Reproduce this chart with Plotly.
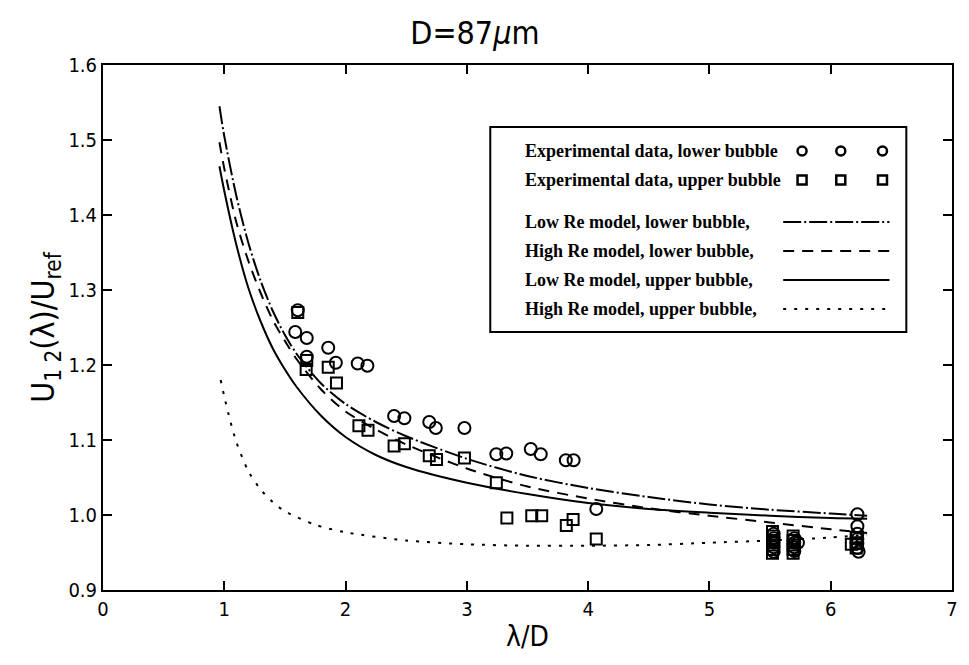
import plotly.graph_objects as go

# ---------------- data ----------------
low_circ_x = [1.606, 1.585, 1.68, 1.857, 1.68, 1.92, 2.10, 2.18, 2.40, 2.485, 2.69, 2.744, 2.98,
              3.243, 3.325, 3.527, 3.609, 3.816, 3.88, 4.067,
              5.53, 5.53, 5.53, 5.53, 5.53, 5.70, 5.70, 5.70, 5.70, 5.73,
              6.22, 6.22, 6.22, 6.22, 6.22, 6.22, 6.23]
low_circ_y = [1.273, 1.244, 1.236, 1.223, 1.211, 1.203, 1.202, 1.199, 1.132, 1.129, 1.124, 1.116, 1.116,
              1.081, 1.082, 1.088, 1.081, 1.073, 1.073, 1.008,
              0.975, 0.969, 0.963, 0.957, 0.951, 0.969, 0.963, 0.957, 0.952, 0.963,
              1.001, 0.985, 0.975, 0.968, 0.962, 0.956, 0.951]

up_sq_x = [1.606, 1.68, 1.675, 1.857, 1.925, 2.11, 2.185, 2.40, 2.485, 2.69, 2.75, 2.98, 3.243,
           3.33, 3.535, 3.617, 3.82, 3.876, 4.067,
           5.52, 5.52, 5.52, 5.52, 5.52, 5.52, 5.69, 5.69, 5.69, 5.69, 5.69,
           6.17, 6.21, 6.21, 6.21]
up_sq_y = [1.270, 1.206, 1.194, 1.197, 1.176, 1.119, 1.113, 1.092, 1.095, 1.079, 1.074, 1.076, 1.043,
           0.996, 0.999, 0.999, 0.986, 0.994, 0.968,
           0.978, 0.972, 0.966, 0.960, 0.954, 0.949, 0.972, 0.966, 0.960, 0.954, 0.949,
           0.961, 0.970, 0.963, 0.956]

model_x = [0.96, 1.0, 1.1, 1.2, 1.3, 1.4, 1.5, 1.6, 1.8, 2.0, 2.25, 2.5, 3.0, 3.5, 4.0, 4.5, 5.0, 5.5, 6.0, 6.3]
lowre_low_y = [1.545, 1.505, 1.425, 1.362, 1.312, 1.272, 1.240, 1.214, 1.175, 1.148, 1.124, 1.105,
               1.075, 1.052, 1.036, 1.024, 1.014, 1.007, 1.002, 0.999]
highre_low_y = [1.497, 1.462, 1.390, 1.338, 1.296, 1.260, 1.232, 1.207, 1.167, 1.138, 1.114, 1.094,
                1.062, 1.038, 1.022, 1.009, 0.999, 0.990, 0.981, 0.976]
lowre_up_y = [1.465, 1.432, 1.360, 1.302, 1.258, 1.222, 1.194, 1.170, 1.132, 1.104, 1.080, 1.064,
              1.043, 1.028, 1.016, 1.008, 1.003, 0.999, 0.996, 0.995]

highre_up_x = [0.97, 1.0, 1.05, 1.1, 1.2, 1.3, 1.4, 1.5, 1.75, 2.0, 2.5, 3.0, 3.5, 4.0, 4.5, 5.0, 5.5, 6.0, 6.3]
highre_up_y = [1.180, 1.158, 1.125, 1.097, 1.058, 1.034, 1.017, 1.005, 0.987, 0.977, 0.966, 0.961,
               0.959, 0.959, 0.960, 0.963, 0.966, 0.970, 0.974]

x_ticks = [0, 1, 2, 3, 4, 5, 6, 7]
y_ticks = [0.9, 1.0, 1.1, 1.2, 1.3, 1.4, 1.5, 1.6]

legend_labels = ["Experimental data, lower bubble", "Experimental data, upper bubble",
                 "Low Re model, lower bubble,", "High Re model, lower bubble,",
                 "Low Re model, upper bubble,", "High Re model, upper bubble,"]

# ---------------- styles ----------------
DASHDOT = "18px,3px,2px,3px"
DASHED = "11px,8px"
SOLID = "solid"
DOTTED = "3px,8px"
LW = 2
SANS = "Liberation Sans Narrow, DejaVu Sans Condensed, Liberation Sans, Arial"

fig = go.Figure()

def curve(x, y, dash):
    fig.add_trace(go.Scatter(x=x, y=y, mode="lines",
                             line=dict(color="black", width=LW, dash=dash, shape="spline", smoothing=0.8),
                             showlegend=False, hoverinfo="skip"))

curve(model_x, lowre_low_y, DASHDOT)
curve(model_x, highre_low_y, DASHED)
curve(model_x, lowre_up_y, SOLID)
curve(highre_up_x, highre_up_y, DOTTED)

fig.add_trace(go.Scatter(x=up_sq_x, y=up_sq_y, mode="markers",
                         marker=dict(symbol="square-open", size=11, color="black", line=dict(width=2)),
                         showlegend=False))
fig.add_trace(go.Scatter(x=low_circ_x, y=low_circ_y, mode="markers",
                         marker=dict(symbol="circle-open", size=12, color="black", line=dict(width=2)),
                         showlegend=False))

# ---------------- layout ----------------
L, R, T, B = 103, 958, 65, 590
W, H = 969, 665
pw, ph = R - L, B - T

def px(xp):
    return (xp - L) / pw

def py(yp):
    return (B - yp) / ph

axis_font = dict(family=SANS, size=20, color="black")

fig.update_layout(
    width=W, height=H,
    margin=dict(l=L, r=W - R, t=T, b=H - B),
    paper_bgcolor="white", plot_bgcolor="white",
    title=dict(text="D=87<i>μ</i>m", x=px(522), xanchor="center", y=1 - 33 / H, yanchor="middle",
               font=dict(family=SANS, size=32, color="black")),
    xaxis=dict(range=[0, 7], tickvals=x_ticks, ticktext=[str(v) for v in x_ticks],
               ticks="inside", ticklen=9, tickwidth=1.5, tickcolor="black",
               showline=True, linecolor="black", linewidth=2, mirror="ticks",
               showgrid=False, zeroline=False, tickfont=axis_font,
               title=dict(text="λ/D", font=dict(family=SANS, size=28, color="black"), standoff=6)),
    yaxis=dict(range=[0.9, 1.6], tickvals=y_ticks, ticktext=[f"{v:.1f}" for v in y_ticks],
               ticks="inside", ticklen=9, tickwidth=1.5, tickcolor="black",
               showline=True, linecolor="black", linewidth=2, mirror="ticks",
               showgrid=False, zeroline=False, tickfont=axis_font,
               title=dict(text="U<sub>1 2</sub>(λ)/U<sub>ref</sub>",
                          font=dict(family=SANS, size=32, color="black"), standoff=4)),
)

# ---------------- hand-made legend (symbols on the right of the text) ----------------
box_l, box_r, box_t, box_b = 493, 912, 127, 332
fig.add_shape(type="rect", xref="paper", yref="paper", x0=px(box_l), x1=px(box_r),
              y0=py(box_b), y1=py(box_t), line=dict(color="black", width=2), fillcolor="white",
              layer="above")

rows = [151, 180, 222, 251, 280, 309]
text_left = 526
for lab, r in zip(legend_labels, rows):
    fig.add_annotation(xref="paper", yref="paper", x=px(text_left), y=py(r), text="<b>" + lab + "</b>",
                       showarrow=False, xanchor="left", yanchor="middle",
                       font=dict(family="Liberation Serif, Times New Roman", size=18, color="black"))

sym_x = [807, 846, 888]
for sx in sym_x:
    fig.add_shape(type="circle", xref="paper", yref="paper", xsizemode="pixel", ysizemode="pixel",
                  xanchor=px(sx), yanchor=py(rows[0]), x0=-4.5, x1=4.5, y0=-4.5, y1=4.5,
                  line=dict(color="black", width=2.5), layer="above")
    fig.add_shape(type="rect", xref="paper", yref="paper", xsizemode="pixel", ysizemode="pixel",
                  xanchor=px(sx), yanchor=py(rows[1]), x0=-4.5, x1=4.5, y0=-4.5, y1=4.5,
                  line=dict(color="black", width=2.5), layer="above")

for dash, r in zip([DASHDOT, DASHED, SOLID, DOTTED], rows[2:]):
    fig.add_shape(type="line", xref="paper", yref="paper", x0=px(788), x1=px(895),
                  y0=py(r), y1=py(r), line=dict(color="black", width=LW, dash=dash), layer="above")

fig.write_html("out.html")
